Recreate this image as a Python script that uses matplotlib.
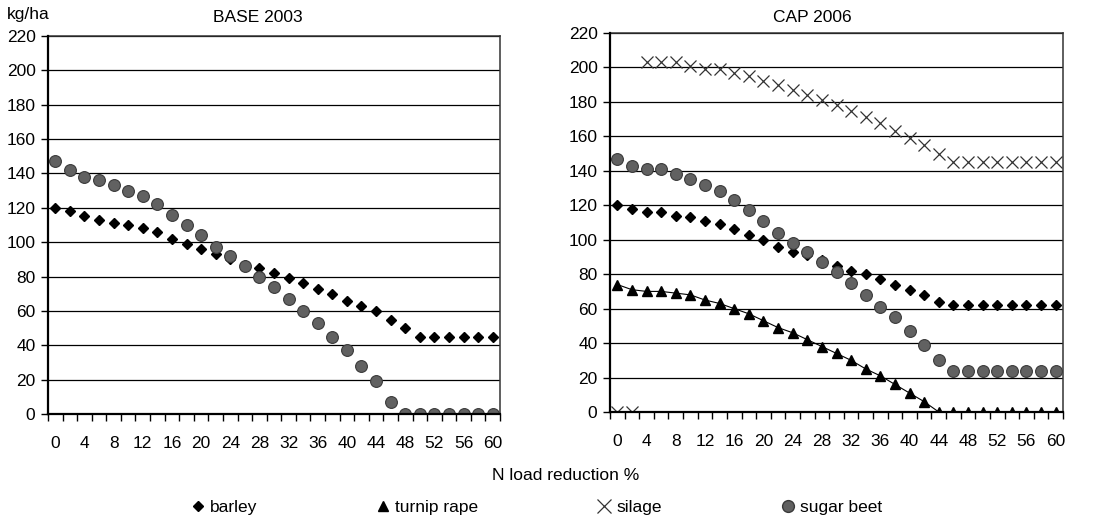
import numpy as np
import matplotlib.pyplot as plt
from matplotlib.lines import Line2D

plt.rcParams['font.family'] = ['Liberation Sans', 'DejaVu Sans']
plt.rcParams['font.size'] = 12.5

# N load reduction (%) categories
reduction = list(range(0, 61, 2))
tick_labels = [str(v) for v in range(0, 61, 4)]

# BASE 2003 (kg/ha)
base_barley = [120, 118, 115, 113, 111, 110, 108, 106, 102, 99, 96, 93, 90, 87, 85, 82,
               79, 76, 73, 70, 66, 63, 60, 55, 50, 45, 45, 45, 45, 45, 45]
base_sugar = [147, 142, 138, 136, 133, 130, 127, 122, 116, 110, 104, 97, 92, 86, 80, 74,
              67, 60, 53, 45, 37, 28, 19, 7, 0, 0, 0, 0, 0, 0, 0]

# CAP 2006 (kg/ha)
cap_barley = [120, 118, 116, 116, 114, 113, 111, 109, 106, 103, 100, 96, 93, 91, 88, 85,
              82, 80, 77, 74, 71, 68, 64, 62, 62, 62, 62, 62, 62, 62, 62]
cap_turnip = [74, 71, 70, 70, 69, 68, 65, 63, 60, 57, 53, 49, 46, 42, 38, 34,
              30, 25, 21, 16, 11, 6, 0, 0, 0, 0, 0, 0, 0, 0, 0]
cap_silage = [0, 0, 203, 203, 203, 201, 199, 199, 197, 195, 192, 190, 187, 184, 181, 178,
              175, 171, 168, 163, 159, 155, 150, 145, 145, 145, 145, 145, 145, 145, 145]
cap_sugar = [147, 143, 141, 141, 138, 135, 132, 128, 123, 117, 111, 104, 98, 93, 87, 81,
             75, 68, 61, 55, 47, 39, 30, 24, 24, 24, 24, 24, 24, 24, 24]

W, H = 1102, 517
fig = plt.figure(figsize=(W / 100, H / 100), dpi=100)
ax1 = fig.add_axes([48 / W, 1 - 414 / H, 452 / W, 378 / H])
ax2 = fig.add_axes([610 / W, 1 - 412 / H, 453 / W, 379 / H])

barley_style = dict(marker='D', ms=5, color='black', ls='none', zorder=3)
turnip_style = dict(marker='^', ms=7, color='black', mec='black', zorder=3)
silage_style = dict(marker='x', ms=8.5, mew=0.9, color='#333333', ls='none', zorder=3)
sugar_style = dict(marker='o', ms=8.5, mfc='#616161', mec='#3a3a3a', mew=0.8, ls='none', zorder=4)


def style_axes(ax):
    ax.set_xlim(-1, 61)
    ax.set_ylim(0, 220)
    ax.set_yticks(range(0, 221, 20))
    ax.set_xticks(range(0, 61, 4))
    ax.set_xticklabels(tick_labels)
    ax.set_xticks(np.arange(-1, 62, 2), minor=True)
    ax.tick_params(axis='x', which='major', length=0, pad=16)
    ax.tick_params(axis='x', which='minor', length=5, width=1, direction='out')
    ax.tick_params(axis='y', length=5, width=1, pad=4)
    ax.grid(axis='y', color='black', lw=0.9, zorder=1)
    ax.set_axisbelow(True)
    for s in ['left', 'bottom']:
        ax.spines[s].set_linewidth(1.6)
        ax.spines[s].set_color('black')
        ax.spines[s].set_zorder(5)
    for s in ['top', 'right']:
        ax.spines[s].set_linewidth(1.1)
        ax.spines[s].set_color('#333333')


ax1.plot(reduction, base_barley, **barley_style)
ax1.plot(reduction, base_sugar, **sugar_style)
style_axes(ax1)

ax2.plot(reduction, cap_barley, **barley_style)
ax2.plot(reduction, cap_turnip, lw=0.8, **turnip_style)
ax2.plot(reduction, cap_silage, **silage_style)
ax2.plot(reduction, cap_sugar, **sugar_style)
style_axes(ax2)

fig.text(258 / W, 1 - 18 / H, 'BASE 2003', ha='center', va='center')
fig.text(812 / W, 1 - 18 / H, 'CAP 2006', ha='center', va='center')
fig.text(7 / W, 1 - 15 / H, 'kg/ha', ha='left', va='center')
fig.text(566 / W, 1 - 475 / H, 'N load reduction %', ha='center', va='center')

handles = [
    Line2D([], [], marker='D', ms=5, color='black', ls='none'),
    Line2D([], [], marker='^', ms=7, color='black', ls='none'),
    Line2D([], [], marker='x', ms=10, mew=0.9, color='#333333', ls='none'),
    Line2D([], [], marker='o', ms=8.5, mfc='#616161', mec='#3a3a3a', ls='none'),
]
labels = ['barley', 'turnip rape', 'silage', 'sugar beet']
fig.legend(handles, labels, ncol=4, loc='center left',
           bbox_to_anchor=(191 / W, 1 - 507 / H), frameon=False,
           handlelength=0.8, handletextpad=0.3, columnspacing=6.85,
           borderaxespad=0, borderpad=0)

fig.savefig('out.png', dpi=100)
